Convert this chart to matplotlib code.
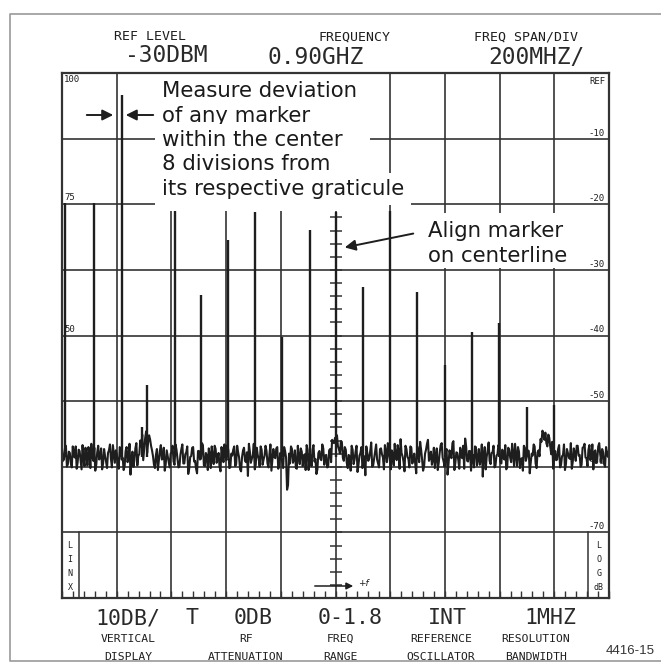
import numpy as np
import matplotlib.pyplot as plt
from matplotlib.lines import Line2D
from matplotlib.patches import Rectangle

W, H = 661, 665

# readouts around the screen
top_names = ["REF LEVEL", "FREQUENCY", "FREQ SPAN/DIV"]
top_values = ["-30DBM", "0.90GHZ", "200MHZ/"]
bottom_values = ["10DB/", "T", "0DB", "0-1.8", "INT", "1MHZ"]
bottom_names = [("VERTICAL", "DISPLAY"), ("RF", "ATTENUATION"), ("FREQ", "RANGE"),
                ("REFERENCE", "OSCILLATOR"), ("RESOLUTION", "BANDWIDTH")]
right_labels = ["REF", "-10", "-20", "-30", "-40", "-50", "-60", "-70"]

# comb markers: frequency (GHz) and level (dB below REF)
marker_ghz = [-0.089, 0.017, 0.119, 0.193, 0.211, 0.313, 0.408, 0.507, 0.606, 0.704,
              0.807, 0.902, 1.001, 1.099, 1.198, 1.300, 1.399, 1.498, 1.600, 1.699]
marker_db = [-19.8, -19.8, -3.4, -54.0, -47.6, -20.9, -33.8, -25.5, -21.2, -40.2,
             -23.9, -21.2, -32.6, -21.0, -33.4, -44.5, -39.5, -38.1, -50.9, -50.6]

# noise floor, left to right (two samples per column: a and b)
noise_db = [
    -57.4, -58.9, -56.8, -59.6, -57.9, -60.1, -58.2, -56.9, -59.3, -57.6, -60.4, -58.7, -57.1, -59.8,
    -58.0, -56.5, -59.1, -60.6, -57.8, -58.9, -57.2, -59.5, -58.4, -60.2, -57.5, -58.8, -56.7, -59.4,
    -58.1, -60.3, -57.3, -58.6, -59.9, -57.0, -58.5, -61.2, -57.7, -59.0, -56.4, -58.3, -56.0, -55.1,
    -57.2, -54.6, -56.3, -55.8, -57.5, -59.7, -58.2, -60.5, -57.6, -58.9, -57.1, -59.6, -58.4, -60.1,
    -57.8, -59.2, -56.6, -58.7, -60.0, -57.3, -59.5, -58.1, -56.9, -60.3, -58.4, -57.0, -59.1, -61.0,
    -57.6, -58.8, -56.7, -59.9, -58.3, -57.2, -60.2, -58.6, -56.8, -59.4, -57.9, -60.7, -58.0, -56.6,
    -59.0, -57.5, -60.1, -58.3, -56.9, -59.6, -57.8, -60.4, -58.5, -57.1, -59.3, -61.4, -57.7, -58.8,
    -56.5, -59.7, -58.2, -60.0, -57.4, -58.9, -56.8, -59.5, -58.1, -60.6, -57.3, -58.7, -57.0, -59.8,
    -58.4, -60.2, -57.6, -63.5, -58.0, -56.9, -59.4, -57.5, -60.3, -58.6, -57.2, -59.9, -58.1, -56.7,
    -60.5, -58.3, -57.4, -59.2, -61.1, -57.9, -58.8, -56.6, -59.7, -58.2, -60.0, -57.3, -55.9, -56.4,
    -55.8, -56.9, -58.0, -56.2, -59.1, -57.4, -60.2, -58.5, -56.8, -59.6, -57.7, -60.8, -58.3, -57.0,
    -59.4, -61.3, -57.9, -58.7, -56.3, -59.8, -57.5, -58.9, -60.1, -57.2, -58.6, -56.7, -59.3, -57.8,
    -60.4, -58.1, -56.5, -59.0, -57.6, -55.8, -58.4, -60.7, -57.3, -58.8, -56.9, -59.5, -58.0, -61.0,
    -57.7, -56.2, -58.9, -60.0, -57.4, -55.9, -58.6, -59.7, -57.1, -58.3, -60.5, -57.8, -56.4, -59.2,
    -58.0, -61.2, -57.5, -58.7, -56.1, -59.4, -57.9, -60.3, -58.4, -56.8, -55.7, -59.1, -57.6, -60.6,
    -58.2, -56.9, -59.8, -57.3, -58.8, -61.5, -57.0, -58.5, -56.3, -59.6, -57.8, -60.1, -58.3, -56.7,
    -59.3, -57.4, -58.9, -60.4, -57.1, -58.6, -56.5, -59.9, -58.2, -57.0, -60.2, -58.7, -56.8, -59.1,
    -57.5, -61.0, -58.0, -56.6, -59.5, -57.8, -58.4, -56.2, -55.0, -54.8, -56.9, -55.6, -58.1, -60.3,
    -57.6, -58.9, -56.7, -59.7, -58.2, -60.5, -57.3, -58.6, -56.4, -59.2, -57.9, -56.8, -58.3, -60.0,
    -57.1, -56.5, -58.7, -57.4, -59.0, -56.6, -57.8, -59.4, -56.9, -58.1, -57.3, -59.6, -57.0, -58.5,
]
noise_db_b = [
    -59.1, -57.2, -60.0, -57.7, -59.4, -56.9, -58.6, -60.3, -57.4, -59.0, -56.7, -59.9, -58.3, -57.0,
    -60.2, -58.4, -57.1, -59.7, -56.8, -58.5, -60.4, -57.3, -59.2, -57.9, -56.6, -60.1, -58.0, -57.5,
    -59.6, -57.0, -58.9, -60.5, -57.6, -59.3, -56.5, -58.7, -60.0, -57.2, -59.8, -58.1, -56.9, -59.0,
    -55.6, -57.9, -55.2, -56.8, -58.4, -60.2, -57.3, -59.1, -56.7, -58.8, -60.6, -57.5, -59.4, -58.0,
    -56.8, -59.7, -57.4, -60.1, -58.2, -56.6, -59.5, -57.8, -61.1, -58.5, -57.1, -59.2, -60.3, -57.6,
    -58.9, -56.4, -59.8, -57.9, -60.5, -58.1, -56.9, -59.6, -57.3, -58.7, -60.0, -57.0, -59.3, -58.4,
    -56.7, -60.2, -58.0, -57.4, -59.9, -56.8, -58.6, -60.7, -57.5, -59.1, -57.8, -56.5, -59.4, -58.2,
    -60.4, -57.1, -58.8, -56.9, -59.7, -58.3, -57.6, -60.1, -56.6, -59.0, -58.5, -57.2, -60.3, -57.9,
    -59.2, -57.0, -58.6, -62.8, -59.5, -57.3, -58.9, -60.2, -56.8, -59.6, -57.7, -58.4, -60.5, -57.4,
    -58.1, -59.9, -56.7, -58.8, -60.4, -57.6, -59.0, -57.2, -58.3, -60.1, -57.5, -59.3, -56.3, -55.6,
    -55.2, -57.3, -56.1, -58.6, -57.0, -59.4, -58.2, -60.6, -57.4, -58.9, -56.8, -59.7, -57.9, -60.2,
    -58.4, -56.9, -59.1, -57.6, -60.0, -58.7, -56.6, -59.5, -57.3, -58.1, -60.4, -57.8, -56.4, -59.0,
    -57.5, -59.8, -58.3, -56.7, -60.3, -57.9, -59.2, -56.8, -58.5, -60.1, -57.1, -58.8, -59.6, -56.9,
    -59.3, -57.4, -60.6, -58.0, -56.5, -59.1, -57.7, -58.9, -60.2, -57.2, -59.4, -56.7, -58.6, -60.0,
    -57.3, -59.6, -58.2, -56.4, -60.5, -57.8, -59.0, -57.1, -58.7, -60.3, -56.9, -59.2, -57.6, -58.4,
    -60.1, -57.0, -58.9, -59.7, -56.6, -58.3, -60.4, -57.5, -59.1, -57.9, -56.8, -59.8, -58.1, -57.2,
    -59.5, -58.6, -56.7, -60.0, -57.4, -59.3, -58.0, -56.5, -59.9, -57.7, -58.8, -60.6, -57.1, -58.5,
    -57.6, -59.4, -58.3, -56.9, -60.2, -57.5, -55.8, -54.5, -55.9, -56.4, -55.1, -57.0, -56.2, -58.7,
    -59.0, -57.3, -60.1, -58.4, -56.6, -59.6, -57.9, -58.8, -60.3, -57.2, -59.1, -56.8, -58.2, -59.7,
    -57.0, -58.6, -59.9, -56.7, -58.3, -60.4, -57.5, -58.9, -56.4, -59.3, -57.8, -60.0, -58.1, -57.4,
]

ink = "#1e1e1e"
mono = "DejaVu Sans Mono"


def P(x, y):
    # image pixel -> figure fraction
    return x / W, 1 - y / H


fig = plt.figure(figsize=(W / 100, H / 100), dpi=100)
x0, y0 = P(62, 598)
x1, y1 = P(609, 73)
ax = fig.add_axes([x0, y0, x1 - x0, y1 - y0])
ax.set_xlim(-0.1, 1.9)
ax.set_ylim(-80, 0)

# graticule
ax.set_xticks(np.arange(-0.1, 1.91, 0.2))
ax.set_xticks(np.arange(-0.1, 1.9, 0.04), minor=True)
ax.set_yticks(np.arange(-80, 1, 10))
ax.grid(True, color="#333333", lw=1.2)
ax.set_axisbelow(True)
ax.tick_params(axis="x", which="both", direction="in", length=5, width=1, color="#333333",
               labelbottom=False)
ax.tick_params(axis="y", length=0, labelleft=False)
for s in ax.spines.values():
    s.set_color("#333333")
    s.set_linewidth(1.6)
    s.set_zorder(10)

# centre line ticks
ax.plot(np.full(40, 0.9), np.arange(-80, 0, 2), ls="none", marker="_", ms=9, mew=1.1,
        color="#333333", zorder=1)

# LIN / LOG boxes
ax.plot([-0.038, -0.038], [-80, -70], color="#333333", lw=1.1)
ax.plot([1.823, 1.823], [-80, -70], color="#333333", lw=1.1)

# trace
trace = np.column_stack([noise_db, noise_db_b]).ravel()
trace_x = np.linspace(-0.1, 1.9, len(trace))
ax.plot(trace_x, trace, color=ink, lw=1.5, zorder=3)
ax.vlines(marker_ghz, -58.5, marker_db, color=ink, lw=1.7, zorder=3)

T = fig.transFigure

# labels inside the graticule
for i, lab in enumerate(right_labels):
    ax.text(*P(605, 73 + i * 65.6 + (13 if i == 0 else -1)), lab, transform=T, ha="right",
            va="bottom", fontsize=6.5, family=mono, color=ink, zorder=7)
for lab, yy in [("100", 84), ("75", 202), ("50", 334)]:
    ax.text(*P(64, yy), lab, transform=T, ha="left", va="bottom", fontsize=6.5, family=mono,
            color=ink, zorder=7)
for i, ch in enumerate(["L", "I", "N", "X"]):
    ax.text(*P(70, 546 + i * 14), ch, transform=T, ha="center", va="center", fontsize=6,
            family=mono, color=ink)
for i, ch in enumerate(["L", "O", "G", "dB"]):
    ax.text(*P(599, 546 + i * 14), ch, transform=T, ha="center", va="center", fontsize=6,
            family=mono, color=ink)

# +f arrow
ax.annotate("", xy=P(356, 586), xytext=P(312, 586), xycoords=T, textcoords=T,
            arrowprops=dict(arrowstyle="-|>", color=ink, lw=1.1, mutation_scale=10))
ax.text(*P(358, 584), "+f", transform=T, ha="left", va="center", fontsize=6.5,
        style="italic", color=ink)

# callouts, pasted over the graticule on white
ax.add_patch(Rectangle(P(155, 211), 215 / W, 137 / H, transform=T, fc="white", ec="none",
                       zorder=5, clip_on=False))
ax.add_patch(Rectangle(P(423, 268), 150 / W, 55 / H, transform=T, fc="white", ec="none",
                       zorder=5, clip_on=False))
callout1 = ["Measure deviation", "of any marker", "within the center", "8 divisions from",
            "its respective graticule"]
for i, line in enumerate(callout1):
    ax.text(*P(162, 97 + i * 24.5), line, transform=T, ha="left", va="baseline",
            fontsize=15.3, color="#1a1a1a", zorder=6,
            bbox=dict(boxstyle="square,pad=0.3", fc="white", ec="none"))
for i, line in enumerate(["Align marker", "on centerline"]):
    ax.text(*P(428, 237 + i * 25), line, transform=T, ha="left", va="baseline",
            fontsize=15.3, color="#1a1a1a", zorder=6)

arrow_kw = dict(arrowstyle="-|>", color=ink, lw=1.4, mutation_scale=16)
ax.annotate("", xy=P(116, 115), xytext=P(84, 115), xycoords=T, textcoords=T,
            arrowprops=arrow_kw)
ax.annotate("", xy=P(123, 115), xytext=P(156, 115), xycoords=T, textcoords=T,
            arrowprops=arrow_kw)
ax.annotate("", xy=P(342, 248), xytext=P(416, 233), xycoords=T, textcoords=T,
            arrowprops=arrow_kw)

# header readouts
for name, val, xn, xv, yv in zip(top_names, top_values, [150, 355, 526], [166, 316, 536],
                                 [56, 58, 58]):
    fig.text(*P(xn, 37), name, ha="center", va="center", fontsize=9.5, family=mono, color=ink)
    fig.text(*P(xv, yv), val, ha="center", va="center", fontsize=16.5, family=mono,
             color="#2a2a2a")

# bottom readouts
for val, xv in zip(bottom_values, [128, 192, 253, 350, 447, 550]):
    fig.text(*P(xv, 618), val, ha="center", va="center", fontsize=15.5, family=mono,
             color="#2a2a2a")
for (n1, n2), xn in zip(bottom_names, [128, 246, 340, 441, 536]):
    fig.text(*P(xn, 639), n1, ha="center", va="center", fontsize=8.2, family=mono, color=ink)
    fig.text(*P(xn, 657), n2, ha="center", va="center", fontsize=8.2, family=mono, color=ink)
fig.text(*P(630, 651), "4416-15", ha="center", va="center", fontsize=9.5,
         family="Liberation Sans", color="#333333")

# scan frame
fig.add_artist(Line2D([1, 10 / W, 10 / W, 1], [1 - 14 / H, 1 - 14 / H, 1 - 661 / H, 1 - 661 / H],
                      transform=T, color="#9a9a9a", lw=1.2))

fig.savefig("out.png", dpi=100)
